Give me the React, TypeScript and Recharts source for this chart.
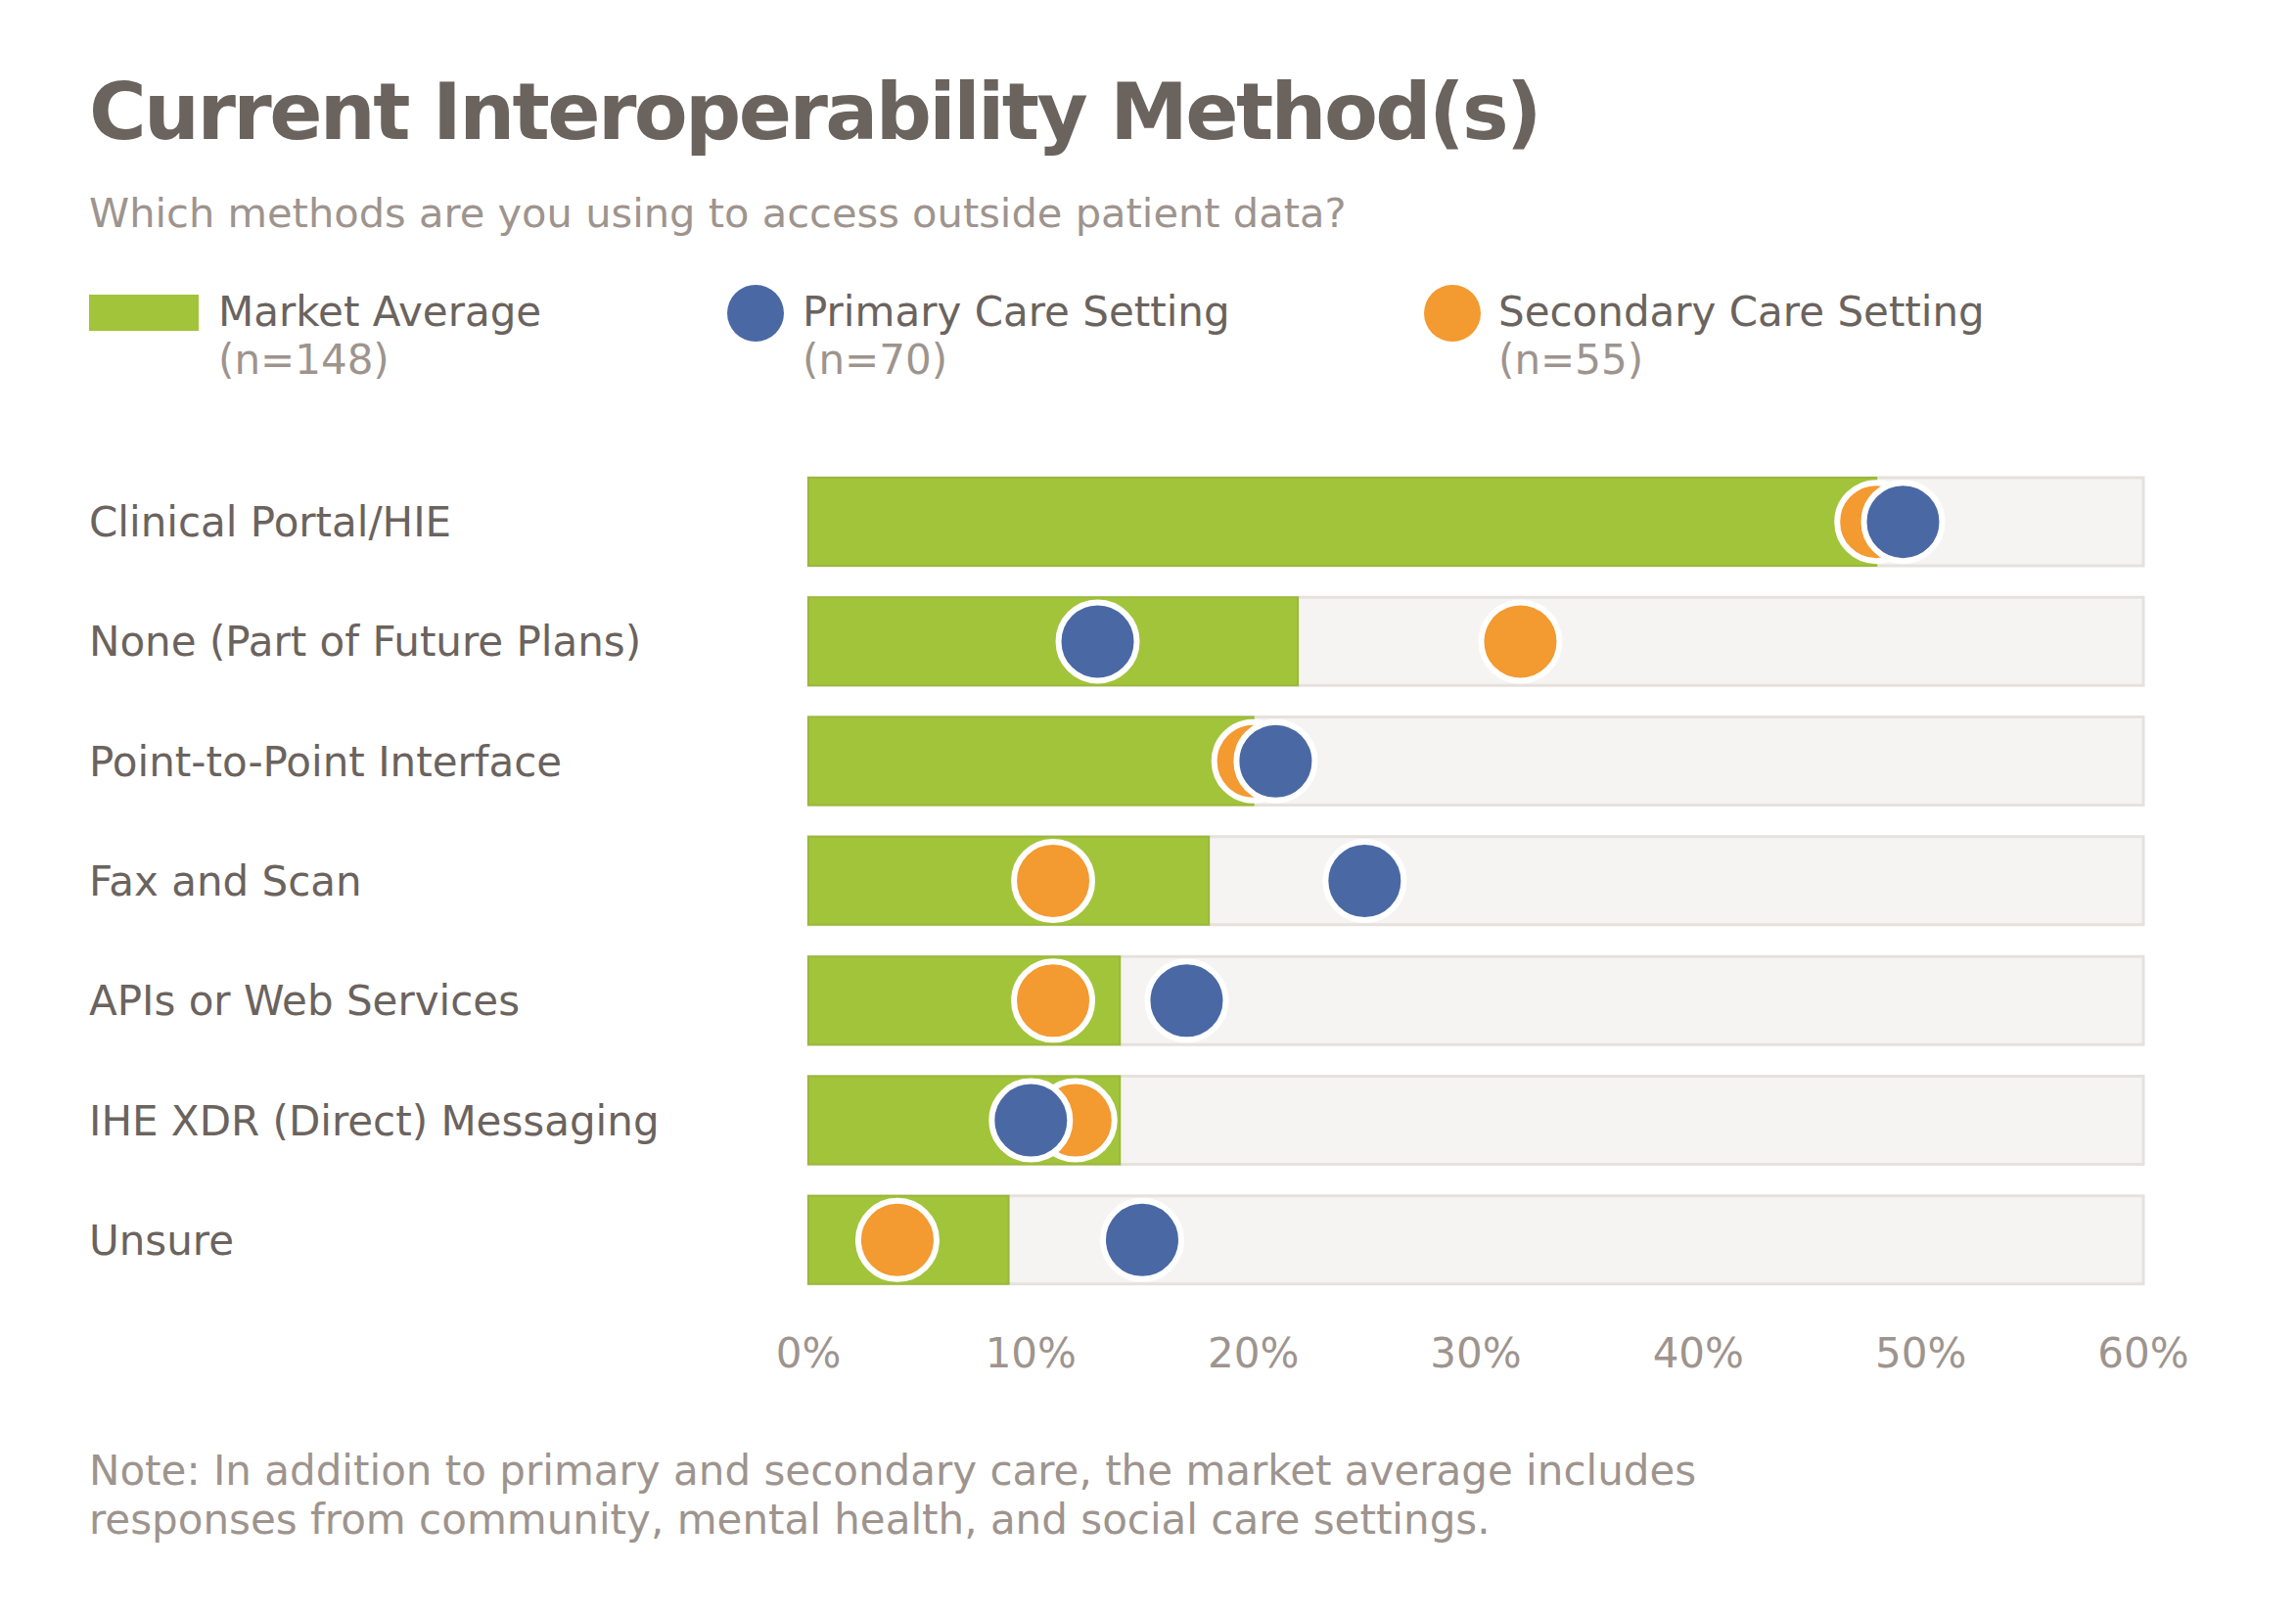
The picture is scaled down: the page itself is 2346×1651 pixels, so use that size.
import { ComposedChart, Bar, Scatter, XAxis, YAxis } from 'recharts';

const categories = [
  'Clinical Portal/HIE',
  'None (Part of Future Plans)',
  'Point-to-Point Interface',
  'Fax and Scan',
  'APIs or Web Services',
  'IHE XDR (Direct) Messaging',
  'Unsure',
];
const marketAverage = [48, 22, 20, 18, 14, 14, 9];
const primaryCare = [49.2, 13, 21, 25, 17, 10, 15];
const secondaryCare = [48, 32, 20, 11, 11, 12, 4];
const xTicks = [0, 10, 20, 30, 40, 50, 60];

const FONT = "Verdana, 'DejaVu Sans', sans-serif";
const DARK = '#6b635e';
const LIGHT = '#9e948e';
const GREEN = '#a2c43a';
const BLUE = '#4a69a4';
const ORANGE = '#f39a30';

const data = categories.map((name, i) => ({
  name,
  market: marketAverage[i],
  primary: primaryCare[i],
  secondary: secondaryCare[i],
}));

const CategoryTick = ({ y, payload }: any) => (
  <text x={91} y={y + 15} fill={DARK} fontSize={42} fontFamily={FONT} textAnchor="start">
    {payload.value}
  </text>
);

const PercentTick = ({ x, y, payload }: any) => (
  <text x={x} y={y + 69} fill={LIGHT} fontSize={42} fontFamily={FONT} textAnchor="middle">
    {`${payload.value}%`}
  </text>
);

const dot = (color: string) => (props: any) => {
  const { cx, cy } = props;
  if (cx == null || cy == null) return <g />;
  return <circle cx={cx} cy={cy} r={40} fill={color} stroke="#ffffff" strokeWidth={6} />;
};

const legendItems = [
  { x: 91, label: 'Market Average', n: '(n=148)', kind: 'rect', color: GREEN, textX: 223 },
  { x: 772, label: 'Primary Care Setting', n: '(n=70)', kind: 'circle', color: BLUE, textX: 820 },
  { x: 1484, label: 'Secondary Care Setting', n: '(n=55)', kind: 'circle', color: ORANGE, textX: 1531 },
];

export default function App() {
  return (
    <div style={{ position: 'absolute', left: 0, top: 0, width: 2346, height: 1651, background: '#ffffff' }}>
      <div style={{ position: 'absolute', left: 0, top: 0 }}>
        <ComposedChart
          width={2346}
          height={1651}
          data={data}
          layout="vertical"
          margin={{ top: 472, right: 156, bottom: 223, left: 0 }}
        >
          <XAxis
            type="number"
            domain={[0, 60]}
            ticks={xTicks}
            axisLine={false}
            tickLine={false}
            tickSize={0}
            tickMargin={0}
            height={100}
            tick={<PercentTick />}
            interval={0}
          />
          <YAxis
            type="category"
            dataKey="name"
            width={826}
            axisLine={false}
            tickLine={false}
            tickSize={0}
            tickMargin={0}
            tick={<CategoryTick />}
            interval={0}
          />
          <Bar
            dataKey="market"
            barSize={90}
            fill={GREEN}
            stroke="#9ab83a"
            strokeWidth={2}
            background={{ fill: '#f6f4f2', stroke: '#e6e1dd', strokeWidth: 3 }}
            isAnimationActive={false}
          />
          <Scatter dataKey="secondary" fill={ORANGE} shape={dot(ORANGE)} isAnimationActive={false} />
          <Scatter dataKey="primary" fill={BLUE} shape={dot(BLUE)} isAnimationActive={false} />
        </ComposedChart>
      </div>
      <svg width={2346} height={1651} style={{ position: 'absolute', left: 0, top: 0, pointerEvents: 'none' }}>
        <text x={91} y={142} fill={DARK} fontSize={80} fontWeight="bold" fontFamily={FONT} letterSpacing={-2.6}>
          Current Interoperability Method(s)
        </text>
        <text x={91} y={232} fill={LIGHT} fontSize={41.6} fontFamily={FONT}>
          Which methods are you using to access outside patient data?
        </text>
        {legendItems.map((item) => (
          <g key={item.label}>
            {item.kind === 'rect' ? (
              <rect x={item.x} y={301} width={112} height={37} fill={item.color} />
            ) : (
              <circle cx={item.x} cy={320} r={29} fill={item.color} />
            )}
            <text x={item.textX} y={333} fill={DARK} fontSize={42} fontFamily={FONT}>
              {item.label}
            </text>
            <text x={item.textX} y={382} fill={LIGHT} fontSize={42} fontFamily={FONT}>
              {item.n}
            </text>
          </g>
        ))}
        <text x={91} y={1517} fill={LIGHT} fontSize={42} fontFamily={FONT}>
          Note: In addition to primary and secondary care, the market average includes
        </text>
        <text x={91} y={1567} fill={LIGHT} fontSize={42} fontFamily={FONT}>
          responses from community, mental health, and social care settings.
        </text>
      </svg>
    </div>
  );
}
